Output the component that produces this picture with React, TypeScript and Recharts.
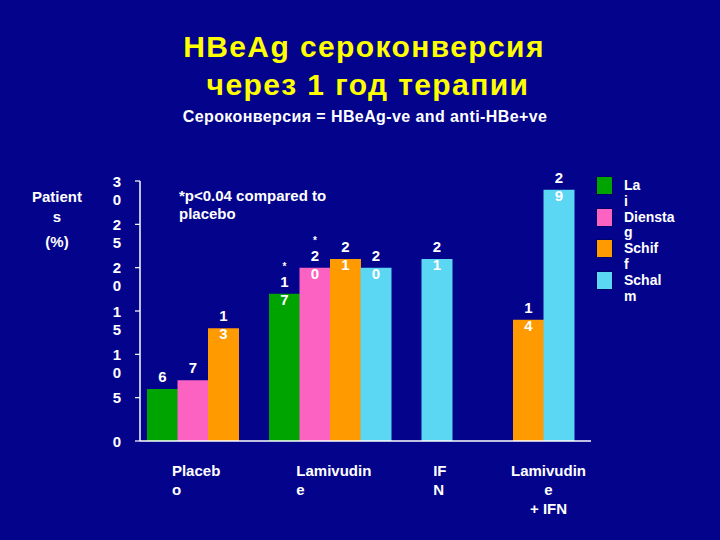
import React from 'react'
import { BarChart, Bar, XAxis, YAxis, Cell, LabelList, Legend } from 'recharts'

const groups = ['Placebo', 'Lamivudine', 'IFN', 'Lamivudine + IFN']
const studies = ['Lai', 'Dienstag', 'Schiff', 'Schalm']
const studyColors = ['#00a400', '#fb62c2', '#ff9a00', '#5bd6f3']

// % HBeAg seroconversion, one entry per study (null = no data)
const placebo = [6, 7, 13, null]
const lamivudine = [17, 20, 21, 20]
const ifn = [null, null, null, 21]
const lamivudineIfn = [null, null, 14, 29]
const lamivudineSig = ['*', '*', '', '']

const yTicks = [0, 5, 10, 15, 20, 25, 30]

const title1 = 'HBeAg сероконверсия'
const title2 = 'через 1 год терапии'
const subtitle = 'Сероконверсия = HBeAg-ve and anti-HBe+ve'
const yLabel = 'Patients (%)'
const note = ['*p<0.04 compared to', 'placebo']

const FONT = '"Liberation Sans", Arial, sans-serif'
const BG = '#03038c'
const W = 720
const H = 540
const PLOT_LEFT = 140
const PLOT_RIGHT = 591
const PLOT_TOP = 181
const PLOT_BOTTOM = 441
const X_AXIS_H = 80
const Y_AXIS_W = 110
const PAD = { left: 7, right: 17 }
const GAP_SLOTS = [1, 1, 2] // empty slots between groups

// the slide wraps every first word one letter early
function wrap(text: string) {
  const words = text.split(' ')
  const first = words[0]
  const lines = first.length > 1 ? [first.slice(0, -1), first.slice(-1)] : [first]
  if (words.length > 1) lines.push(words.slice(1).join(' '))
  return lines
}

type Row = {
  slot: string
  value: number | null
  study: number
  mark: string
  group: number
  groupStart: boolean
  groupSize: number
}

const groupValues = [placebo, lamivudine, ifn, lamivudineIfn]
const groupMarks: string[][] = [[], lamivudineSig, [], []]

const rows: Row[] = []
groupValues.forEach((vals, g) => {
  const present = studies.map((_, s) => s).filter((s) => vals[s] != null)
  present.forEach((s, k) =>
    rows.push({
      slot: `${g}-${s}`,
      value: vals[s],
      study: s,
      mark: groupMarks[g][s] ?? '',
      group: g,
      groupStart: k === 0,
      groupSize: present.length,
    })
  )
  for (let i = 0; i < (GAP_SLOTS[g] ?? 0); i++) {
    rows.push({ slot: `gap-${g}-${i}`, value: null, study: -1, mark: '', group: -1, groupStart: false, groupSize: 0 })
  }
})

const SLOT_W = (PLOT_RIGHT - PLOT_LEFT - PAD.left - PAD.right) / rows.length

const textStyle = { fontFamily: FONT, fontWeight: 700 as const }

function YTick({ x, y, payload }: any) {
  const lines = wrap(String(payload.value))
  const cx = x - 16
  return (
    <g>
      {lines.map((l, i) => (
        <text key={i} x={cx} y={y + 5.5 + i * 18} textAnchor="middle" fill="#fff" fontSize={15} {...textStyle}>
          {l}
        </text>
      ))}
    </g>
  )
}

function XTick({ x, y, payload }: any) {
  const row = rows.find((r) => r.slot === payload.value)
  if (!row || !row.groupStart) return <g />
  const cx = x + ((row.groupSize - 1) / 2) * SLOT_W
  const lines = wrap(groups[row.group])
  const centered = lines.length > 2
  const startX = cx - (lines[0].length * 8.6) / 2 + 5
  return (
    <g>
      {lines.map((l, i) => (
        <text
          key={i}
          x={centered ? cx + 5 : startX}
          y={y + 27 + i * 19}
          textAnchor={centered ? 'middle' : 'start'}
          fill="#fff"
          fontSize={15}
          {...textStyle}
        >
          {l}
        </text>
      ))}
    </g>
  )
}

function ValueLabel(props: any) {
  const { x, y, width, value } = props
  const row = rows.find((r) => r.slot === value)
  if (!row || row.value == null) return null
  const cx = x + width / 2
  const lines = wrap(String(row.value))
  return (
    <g>
      {row.mark && (
        <text x={cx} y={y - 24} textAnchor="middle" fill="#fff" fontSize={10} {...textStyle}>
          {row.mark}
        </text>
      )}
      {lines.map((l, i) => (
        <text key={i} x={cx} y={y - 7 + i * 18} textAnchor="middle" fill="#fff" fontSize={15} {...textStyle}>
          {l}
        </text>
      ))}
    </g>
  )
}

function YLabel({ viewBox }: any) {
  const lines = wrap(yLabel)
  const cx = viewBox.x + 27
  const baselines = [21, 41, 66]
  return (
    <g>
      {lines.map((l, i) => (
        <text key={i} x={cx} y={viewBox.y + baselines[i]} textAnchor="middle" fill="#fff" fontSize={15} {...textStyle}>
          {l}
        </text>
      ))}
    </g>
  )
}

function LegendBox() {
  return (
    <div style={{ fontFamily: FONT, fontWeight: 700, fontSize: 14, color: '#fff' }}>
      {studies.map((name, i) => (
        <div key={name} style={{ position: 'relative', height: 31.7 }}>
          <div
            style={{
              position: 'absolute',
              left: 0,
              top: 0,
              width: 15,
              height: 17,
              background: studyColors[i],
              boxShadow: '0 0 0 0.5px rgba(0,0,0,0.5)',
            }}
          />
          <div style={{ position: 'absolute', left: 27, top: 1, lineHeight: '15.5px', whiteSpace: 'nowrap' }}>
            {wrap(name).map((l, k) => (
              <div key={k}>{l}</div>
            ))}
          </div>
        </div>
      ))}
    </div>
  )
}

export default function App() {
  return (
    <div style={{ position: 'absolute', left: 0, top: 0, width: W, height: H, background: BG, overflow: 'hidden' }}>
      <BarChart
        width={W}
        height={H}
        data={rows}
        barCategoryGap={0}
        barGap={0}
        margin={{
          top: PLOT_TOP,
          right: W - PLOT_RIGHT,
          left: PLOT_LEFT - Y_AXIS_W,
          bottom: H - PLOT_BOTTOM - X_AXIS_H,
        }}
      >
        <XAxis
          dataKey="slot"
          interval={0}
          height={X_AXIS_H}
          padding={PAD}
          tickLine={false}
          axisLine={{ stroke: '#fff', strokeWidth: 1.5 }}
          tick={<XTick />}
        />
        <YAxis
          width={Y_AXIS_W}
          domain={[0, 30]}
          ticks={yTicks}
          interval={0}
          tickSize={5}
          tickLine={{ stroke: '#fff', strokeWidth: 1.2 }}
          axisLine={{ stroke: '#fff', strokeWidth: 1.5 }}
          tick={<YTick />}
          label={{ content: YLabel }}
        />
        <Legend
          layout="vertical"
          align="center"
          verticalAlign="middle"
          wrapperStyle={{ left: 597, top: 177, width: 110, height: 130 }}
          content={() => <LegendBox />}
        />
        <Bar dataKey="value" isAnimationActive={false}>
          {rows.map((r) => (
            <Cell key={r.slot} fill={r.study >= 0 ? studyColors[r.study] : 'none'} />
          ))}
          <LabelList dataKey="slot" content={ValueLabel} />
        </Bar>
      </BarChart>
      <svg width={W} height={H} style={{ position: 'absolute', left: 0, top: 0, pointerEvents: 'none' }}>
        <text x={364} y={57} textAnchor="middle" fill="#ffff00" fontSize={30} letterSpacing={1.4} {...textStyle}>
          {title1}
        </text>
        <text x={368} y={95} textAnchor="middle" fill="#ffff00" fontSize={30} letterSpacing={1.4} {...textStyle}>
          {title2}
        </text>
        <text x={365} y={122} textAnchor="middle" fill="#fff" fontSize={16} letterSpacing={0.4} {...textStyle}>
          {subtitle}
        </text>
        {note.map((l, i) => (
          <text key={i} x={179} y={201 + i * 18} fill="#fff" fontSize={15} {...textStyle}>
            {l}
          </text>
        ))}
      </svg>
    </div>
  )
}
